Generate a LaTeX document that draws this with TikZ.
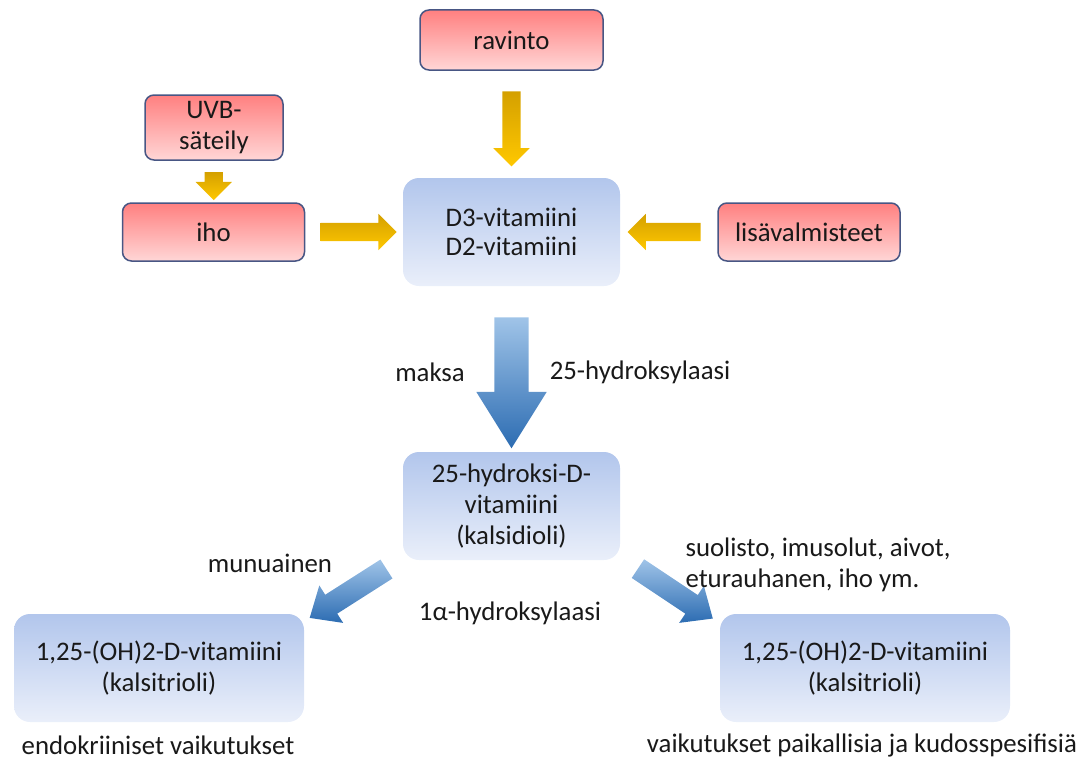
\documentclass[tikz,border=0pt]{standalone}
\usepackage{fontspec}
\setmainfont{Carlito}
\usetikzlibrary{shapes.arrows,calc}

\definecolor{redtop}{RGB}{255,128,128}
\definecolor{redbot}{RGB}{255,214,214}
\definecolor{redline}{RGB}{72,86,132}
\definecolor{bluetop}{RGB}{178,198,236}
\definecolor{bluebot}{RGB}{234,239,250}
\definecolor{goldlight}{RGB}{255,200,0}
\definecolor{golddark}{RGB}{212,160,0}
\definecolor{arrlight}{RGB}{160,196,232}
\definecolor{arrdark}{RGB}{44,108,178}

\begin{document}
\begin{tikzpicture}[x=1pt, y=-1pt]
      \tikzset{
  every node/.style={
    font=\fontsize{26.8}{31}\selectfont,
    text=black!90
  },
  source/.style={
    rectangle,
    rounded corners=9pt,
    draw=redline,
    line width=1.5pt,
    top color=redtop,
    bottom color=redbot,
    align=center,
    minimum height=58pt
  },
  stage/.style={
    rectangle,
    rounded corners=16pt,
    top color=bluetop,
    bottom color=bluebot,
    align=center,
    minimum height=108pt
  },
  goldarrow/.style={
    single arrow,
    inner sep=0pt,
    inner ysep=9pt,
    single arrow head extend=9pt,
    single arrow tip angle=90,
    top color=golddark,
    bottom color=goldlight,
    minimum height=#1
  },
  bluearrow/.style={
    single arrow,
    inner sep=0pt,
    top color=arrlight,
    bottom color=arrdark,
    minimum height=#1
  }
}
\useasboundingbox (0,0) rectangle (1086,760);

% lahteet
\node [source, minimum width=183pt, minimum height=60pt] (ravinto) at (511.5,40) {ravinto};
\node [source, minimum width=138pt, minimum height=65pt] (uvb) at (214,127.5) {UVB-\\säteily};
\foreach \n/\t/\x in {iho/iho/213.5,lisa/lisävalmisteet/809}
  \node [source, minimum width=182pt] (\n) at (\x,232) {\t};

% vaiheet
\node [stage, minimum width=217pt] (d3) at (511.5,232) {D3-vitamiini\\[-2pt]D2-vitamiini};
\node [stage, minimum width=217pt] (hyd) at (511.5,506) {25-hydroksi-D-\\vitamiini\\(kalsidioli)};
\foreach \n/\x in {left/159,right/865}
  \node [stage, minimum width=290pt] (\n) at (\x,668) {1,25-(OH)2-D-vitamiini\\(kalsitrioli)};

% nuolet
\node [goldarrow=75pt, rotate=-90] (a-ravinto) at ($(ravinto.south)!0.5!(d3.north)$) {};
\node [goldarrow=28pt, rotate=-90] (a-uvb) at ($(uvb.south)!0.5!(iho.north)$) {};
\node [goldarrow=76pt] (a-iho) at ($(iho.east)!0.5!(d3.west)$) {};
\node [goldarrow=73pt, rotate=180] (a-lisa) at ($(lisa.west)!0.5!(d3.east)$) {};

\node [bluearrow=131pt, inner ysep=17pt, single arrow head extend=18pt,
  single arrow tip angle=64, rotate=-90] (a-maksa) at ($(d3.south)!0.5!(hyd.north)$) {};
\node [bluearrow=91pt, inner ysep=11pt, single arrow head extend=11pt,
  single arrow tip angle=82, rotate=-147.5] (a-left) at ($(hyd.south west)!0.5!(left.north east)+(0,3)$) {};
\node [bluearrow=90pt, inner ysep=11pt, single arrow head extend=11pt,
  single arrow tip angle=82, rotate=-33.7] (a-right) at ($(hyd.south east)!0.5!(right.north west)+(0,3)$) {};

% tekstit
\node (maksa) at (430,372) {maksa};
\node (hydlaasi) at (640,372) {25-hydroksylaasi};
\node (munuainen) at (270,563) {munuainen};
\node (alfa) at (510,613) {1α-hydroksylaasi};
\node [anchor=west, align=left] (kohteet) at (682,565) {suolisto, imusolut, aivot,\\eturauhanen, iho ym.};
\node (endo) at (158,745) {endokriiniset vaikutukset};
\node (paik) at (862,745) {vaikutukset paikallisia ja kudosspesifisiä};
    \end{tikzpicture}
\end{document}
